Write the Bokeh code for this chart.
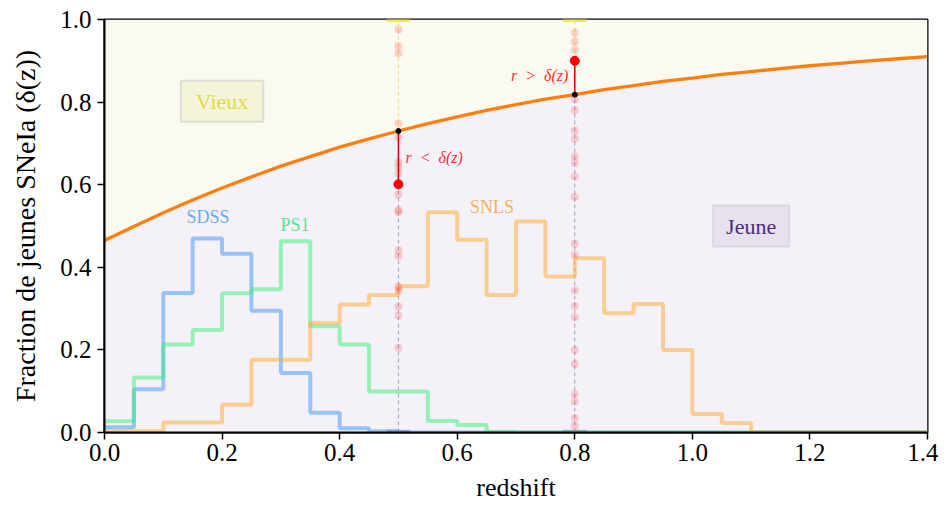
import numpy as np
from bokeh.plotting import figure
from bokeh.models import Label, FixedTicker, PrintfTickFormatter, Range1d
from bokeh.embed import file_html
from bokeh.resources import INLINE

# ---------------- data ----------------
bin_edges = [round(0.05 * i, 2) for i in range(29)]  # 0.00 .. 1.40

sdss = [0.013, 0.105, 0.338, 0.470, 0.433, 0.295, 0.144, 0.048, 0.010, 0.003,
        0, 0, 0, 0, 0, 0, 0, 0, 0, 0, 0, 0, 0, 0, 0, 0, 0, 0]
ps1 = [0.027, 0.133, 0.213, 0.248, 0.337, 0.347, 0.463, 0.257, 0.213, 0.099,
       0.099, 0.028, 0.018, 0.002, 0, 0, 0, 0, 0, 0, 0, 0, 0, 0, 0, 0, 0, 0]
snls = [0.003, 0.003, 0.024, 0.024, 0.067, 0.176, 0.176, 0.265, 0.310, 0.333,
        0.354, 0.533, 0.467, 0.333, 0.511, 0.378, 0.422, 0.289, 0.311, 0.200,
        0.045, 0.023, 0, 0, 0, 0, 0, 0]

z_curve = [0.00, 0.05, 0.10, 0.15, 0.20, 0.25, 0.30, 0.35, 0.40, 0.45, 0.50,
           0.55, 0.60, 0.65, 0.70, 0.75, 0.80, 0.85, 0.90, 0.95, 1.00, 1.05,
           1.10, 1.15, 1.20, 1.25, 1.30, 1.35, 1.40]
delta_curve = [0.465, 0.499, 0.532, 0.563, 0.592, 0.619, 0.645, 0.668, 0.691,
               0.711, 0.730, 0.748, 0.764, 0.780, 0.794, 0.807, 0.818, 0.830,
               0.840, 0.850, 0.858, 0.867, 0.874, 0.881, 0.888, 0.894, 0.900,
               0.905, 0.910]

z_draw = [0.5, 0.8]
delta_draw = [0.730, 0.818]
r_draw = [0.601, 0.900]

samples_z05 = [0.976, 0.935, 0.918, 0.749, 0.715, 0.655, 0.643, 0.627, 0.576,
               0.539, 0.533, 0.441, 0.427, 0.353, 0.344, 0.305, 0.283, 0.205]
samples_z08 = [0.968, 0.946, 0.926, 0.807, 0.780, 0.731, 0.711, 0.668, 0.652,
               0.620, 0.570, 0.457, 0.430, 0.344, 0.307, 0.279, 0.200, 0.166,
               0.093, 0.075, 0.036, 0.016]

x_ticks = [0.0, 0.2, 0.4, 0.6, 0.8, 1.0, 1.2, 1.4]
y_ticks = [0.0, 0.2, 0.4, 0.6, 0.8, 1.0]

FONT = "'Liberation Serif', serif"

# ---------------- figure ----------------
p = figure(width=938, height=506, x_range=Range1d(0, 1.4), y_range=Range1d(0, 1),
           output_backend="svg", toolbar_location=None,
           min_border_left=104, min_border_right=11, min_border_top=19,
           min_border_bottom=74)
p.grid.visible = False
p.background_fill_color = "#fafaf0"
p.border_fill_color = "white"
p.outline_line_color = "black"
p.outline_line_width = 2

# backgrounds: old (above curve) and young (below curve)
p.varea(x=z_curve, y1=delta_curve, y2=[1.0] * len(z_curve), color="#fafaf0")
p.varea(x=z_curve, y1=[0.0] * len(z_curve), y2=delta_curve, color="#f4f2f8")

# vertical dashed guides
p.segment(x0=z_draw, y0=[0, 0], x1=z_draw, y1=delta_draw,
          line_color="#a89cbc", line_width=1, line_dash="4 3")
p.segment(x0=z_draw, y0=delta_draw, x1=z_draw, y1=[1, 1],
          line_color="#ece35a", line_width=1, line_dash="4 3")

# caps
zl = [z - 0.02 for z in z_draw]
zr = [z + 0.02 for z in z_draw]
p.segment(x0=zl, y0=[1, 1], x1=zr, y1=[1, 1], line_color="#f0e65a", line_width=5)
p.segment(x0=zl, y0=[0.003, 0.003], x1=zr, y1=[0.003, 0.003],
          line_color="#a898c4", line_width=3, line_alpha=0.8)

# histograms
def step_xy(vals):
    return bin_edges, list(vals) + [vals[-1]]

for vals, col in [(sdss, "#3d94f5"), (ps1, "#38f07a"), (snls, "#ffa82a")]:
    xs, ys = step_xy(vals)
    p.step(x=xs, y=ys, mode="after", line_color=col, line_width=4, line_alpha=0.5)

# delta(z) curve
p.line(z_curve, delta_curve, line_color="#ff7f0e", line_width=3.3)

# random samples
p.scatter(x=[0.5] * len(samples_z05), y=samples_z05, size=8,
          fill_color="red", fill_alpha=0.17, line_color=None)
p.scatter(x=[0.8] * len(samples_z08), y=samples_z08, size=8,
          fill_color="red", fill_alpha=0.17, line_color=None)

# r to delta segments
p.segment(x0=z_draw, y0=r_draw, x1=z_draw, y1=delta_draw,
          line_color="#d40000", line_width=1.5)
p.scatter(x=z_draw, y=r_draw, size=9, fill_color="red", line_color="red")
p.scatter(x=z_draw, y=delta_draw, size=5, fill_color="black", line_color="black")

# text annotations
p.add_layout(Label(x=0.512, y=0.666, text="r\u2002<\u2002δ(z)", text_font=FONT,
                   text_font_style="italic", text_font_size="16px",
                   text_color="red", text_alpha=0.85,
                   text_align="left", text_baseline="middle"))
p.add_layout(Label(x=0.789, y=0.865, text="r\u2002>\u2002δ(z)", text_font=FONT,
                   text_font_style="italic", text_font_size="16px",
                   text_color="red", text_alpha=0.85,
                   text_align="right", text_baseline="middle"))

for txt, x, y, col in [("SDSS", 0.176, 0.521, "#4a9af2"),
                       ("PS1", 0.324, 0.503, "#3ee07f"),
                       ("SNLS", 0.659, 0.545, "#f5a53c")]:
    p.add_layout(Label(x=x, y=y, text=txt, text_font=FONT, text_font_size="18px",
                       text_color=col, text_alpha=0.85,
                       text_align="center", text_baseline="middle"))

p.add_layout(Label(x=0.2, y=0.802, text="Vieux", text_font=FONT, text_font_size="22px",
                   text_color="#e0dc48", text_align="center", text_baseline="middle",
                   background_fill_color="#f4f5d8", background_fill_alpha=1.0,
                   border_line_color="#dedfd2", border_line_width=2,
                   padding=dict(left=15, right=15, top=8, bottom=8)))
p.add_layout(Label(x=1.1, y=0.50, text="Jeune", text_font=FONT, text_font_size="22px",
                   text_color="#4b2d7f", text_align="center", text_baseline="middle",
                   background_fill_color="#e6e1ec", background_fill_alpha=1.0,
                   border_line_color="#dcdae0", border_line_width=2,
                   padding=dict(left=13, right=13, top=8, bottom=8)))

# axes
for ax in (p.xaxis[0], p.yaxis[0]):
    ax.axis_line_width = 2
    ax.major_tick_line_width = 1.5
    ax.major_tick_in = 0
    ax.major_tick_out = 7
    ax.minor_tick_in = 0
    ax.minor_tick_out = 0
    ax.major_label_text_font = FONT
    ax.major_label_text_font_size = "25px"
    ax.major_label_text_color = "black"
    ax.axis_label_text_font = FONT
    ax.axis_label_text_font_size = "26px"
    ax.axis_label_text_font_style = "normal"
    ax.axis_label_text_color = "black"
    ax.formatter = PrintfTickFormatter(format="%.1f")

p.yaxis.axis_label_text_font_size = "28px"
p.xaxis.ticker = FixedTicker(ticks=x_ticks)
p.yaxis.ticker = FixedTicker(ticks=y_ticks)
p.xaxis.axis_label = "redshift"
p.yaxis.axis_label = "Fraction de jeunes SNeIa (δ(z))"
p.xaxis.major_label_standoff = 4
p.xaxis.axis_label_standoff = 9
p.yaxis.major_label_standoff = 6
p.yaxis.axis_label_standoff = 16

open("out.html", "w").write(file_html(p, INLINE))
